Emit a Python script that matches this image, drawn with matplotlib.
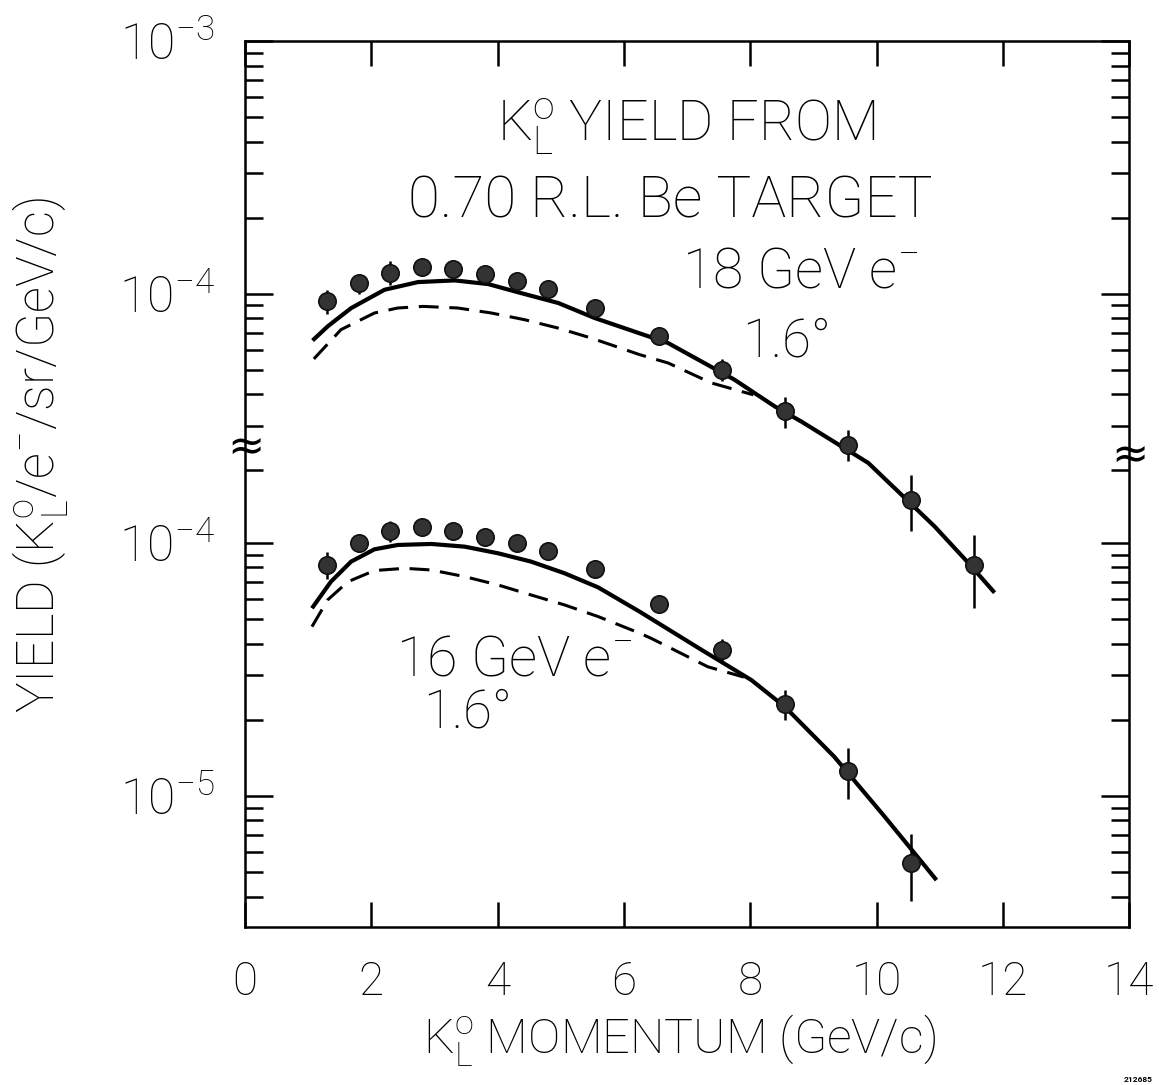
import numpy as np
import matplotlib.pyplot as plt

plt.rcParams['font.family'] = ['Roboto', 'DejaVu Sans']
plt.rcParams['font.weight'] = 'light'
plt.rcParams['mathtext.fontset'] = 'custom'
plt.rcParams['mathtext.rm'] = 'Roboto:light'
plt.rcParams['mathtext.it'] = 'Roboto:light'
plt.rcParams['mathtext.bf'] = 'Roboto'

# measured points (same momenta for both beams)
p_pts = [1.3, 1.8, 2.3, 2.8, 3.3, 3.8, 4.3, 4.8, 5.55, 6.55, 7.55, 8.55, 9.55, 10.55, 11.55]

# 18 GeV e-, 1.6 deg  (upper scale)
y18 = [9.33e-5, 1.10e-4, 1.213e-4, 1.275e-4, 1.253e-4, 1.20e-4, 1.12e-4, 1.045e-4,
       8.78e-5, 6.78e-5, 5.01e-5, 3.43e-5, 2.53e-5, 1.53e-5, 8.41e-6]
e18 = [1.0e-5, 1.0e-5, 1.3e-5, 0.9e-5, 1.0e-5, 1.0e-5, 0.9e-5, 0.85e-5,
       0.6e-5, 0.5e-5, 0.5e-5, 0.48e-5, 0.35e-5, 0.38e-5, 0.27e-5]

# 16 GeV e-, 1.6 deg  (lower scale)
y16 = [8.19e-5, 9.97e-5, 1.115e-4, 1.154e-4, 1.119e-4, 1.054e-4, 1.003e-4, 9.32e-5,
       7.89e-5, 5.73e-5, 3.78e-5, 2.31e-5, 1.26e-5, 5.45e-6]
e16 = [1.0e-5, 0.8e-5, 1.1e-5, 0.8e-5, 0.8e-5, 0.75e-5, 0.7e-5, 0.65e-5,
       0.55e-5, 0.4e-5, 0.38e-5, 0.32e-5, 0.29e-5, 0.16e-5]

# calculated curves
fit18_x = [1.07, 1.31, 1.68, 2.21, 2.74, 3.32, 3.85, 4.37, 4.96, 5.54, 6.70, 7.75,
           8.39, 8.81, 9.87, 10.92, 11.45, 11.87]
fit18_y = [6.53e-5, 7.43e-5, 8.77e-5, 1.037e-4, 1.112e-4, 1.129e-4, 1.092e-4, 1.006e-4,
           9.19e-5, 8.01e-5, 6.38e-5, 4.57e-5, 3.58e-5, 3.12e-5, 2.14e-5, 1.20e-5,
           8.63e-6, 6.56e-6]
dash18_x = [1.09, 1.52, 2.05, 2.42, 2.82, 3.37, 3.90, 4.43, 4.96, 5.48, 6.25, 6.70, 7.38, 8.05]
dash18_y = [5.52e-5, 7.21e-5, 8.39e-5, 8.78e-5, 8.91e-5, 8.78e-5, 8.39e-5, 7.89e-5,
            7.31e-5, 6.68e-5, 5.74e-5, 5.32e-5, 4.44e-5, 3.98e-5]

fit16_x = [1.06, 1.36, 1.68, 2.05, 2.42, 2.95, 3.48, 4.01, 4.53, 5.06, 5.59, 6.25,
           7.23, 8.02, 8.55, 9.33, 10.13, 10.95]
fit16_y = [5.52e-5, 7.03e-5, 8.44e-5, 9.44e-5, 9.82e-5, 9.91e-5, 9.67e-5, 9.10e-5,
           8.44e-5, 7.59e-5, 6.68e-5, 5.35e-5, 3.78e-5, 2.87e-5, 2.25e-5, 1.43e-5,
           8.28e-6, 4.65e-6]
dash16_x = [1.06, 1.31, 1.63, 2.05, 2.53, 2.95, 3.48, 4.01, 4.53, 5.06, 5.59, 6.25, 6.43, 7.33, 7.9]
dash16_y = [4.67e-5, 5.96e-5, 7.03e-5, 7.78e-5, 7.94e-5, 7.82e-5, 7.36e-5, 6.82e-5,
            6.23e-5, 5.69e-5, 5.12e-5, 4.40e-5, 4.20e-5, 3.24e-5, 2.95e-5]

x_ticks = [0, 2, 4, 6, 8, 10, 12, 14]
hi_major = [1e-4, 1e-3]
hi_labels = [r'$10^{-4}$', r'$10^{-3}$']
hi_minor = [m * 1e-4 for m in range(2, 10)] + [m * 1e-5 for m in range(2, 10)]
lo_major = [1e-5, 1e-4]
lo_labels = [r'$10^{-5}$', r'$10^{-4}$']
lo_minor = [m * 1e-5 for m in range(2, 10)] + [m * 1e-6 for m in range(4, 10)]

fig = plt.figure(figsize=(11.59, 10.85), dpi=100)
rect = [0.2114, 0.1456, 0.7628, 0.8166]
ax_hi = fig.add_axes(rect)
ax_lo = fig.add_axes(rect)
ax_lo.patch.set_visible(False)

ax_hi.set_yscale('log')
ax_lo.set_yscale('log')
ax_hi.set_xlim(0, 14)
ax_lo.set_xlim(0, 14)
ax_hi.set_ylim(10 ** -6.506, 1e-3)
ax_lo.set_ylim(10 ** -5.518, 10 ** -2.016)

lw_frame = 1.8
for ax in (ax_hi, ax_lo):
    for s in ax.spines.values():
        s.set_linewidth(lw_frame)
for s in ax_lo.spines.values():
    s.set_visible(False)

ax_hi.set_xticks(x_ticks)
ax_hi.set_xticklabels([str(t) for t in x_ticks])
ax_hi.tick_params(axis='x', which='major', direction='in', length=18, width=1.8,
                  top=True, bottom=True, labelsize=33, pad=24)
ax_lo.set_xticks([])

ax_hi.set_yticks(hi_major)
ax_hi.set_yticklabels(hi_labels)
ax_hi.set_yticks(hi_minor, minor=True)
ax_hi.set_yticklabels([], minor=True)
ax_lo.set_yticks(lo_major)
ax_lo.set_yticklabels(lo_labels)
ax_lo.set_yticks(lo_minor, minor=True)
ax_lo.set_yticklabels([], minor=True)
for ax in (ax_hi, ax_lo):
    ax.tick_params(axis='y', which='major', direction='in', length=20, width=1.8,
                   left=True, right=True, labelsize=36, pad=22)
    ax.tick_params(axis='y', which='minor', direction='in', length=13, width=1.8,
                   left=True, right=True)

# curves
ax_hi.plot(fit18_x, fit18_y, color='k', lw=3.0, solid_capstyle='butt')
ax_hi.plot(dash18_x, dash18_y, color='k', lw=2.2, linestyle=(0, (6.5, 3.5)))
ax_lo.plot(fit16_x, fit16_y, color='k', lw=3.0, solid_capstyle='butt')
ax_lo.plot(dash16_x, dash16_y, color='k', lw=2.2, linestyle=(0, (6.5, 3.5)))

# data points
ax_hi.errorbar(p_pts, y18, yerr=e18, fmt='o', ms=12.5, mfc='#333333', mec='#111111',
               mew=1.2, ecolor='k', elinewidth=1.8, capsize=0, zorder=5)
ax_lo.errorbar(p_pts[:len(y16)], y16, yerr=e16, fmt='o', ms=12.5, mfc='#333333', mec='#111111',
               mew=1.2, ecolor='k', elinewidth=1.8, capsize=0, zorder=5)

# annotations (figure pixel positions)
W, H = 1159, 1085


def ftext(px, py, s, **kw):
    fig.text(px / W, 1 - py / H, s, ha='center', va='center', **kw)


ftext(686, 127, r'K$^{\mathrm{o}}_{\mathrm{L}}$ YIELD FROM', fontsize=40)
ftext(670, 202, '0.70 R.L. Be TARGET', fontsize=42)
ftext(800, 272, r'18 GeV e$^{-}$', fontsize=40)
ftext(787, 342, '1.6°', fontsize=38)
ftext(514, 660, r'16 GeV e$^{-}$', fontsize=40)
ftext(468, 713, '1.6°', fontsize=38)
ftext(680, 1040, r'K$^{\mathrm{o}}_{\mathrm{L}}$ MOMENTUM (GeV/c)', fontsize=35)
ftext(40, 455, r'YIELD (K$^{\mathrm{o}}_{\mathrm{L}}$/e$^{-}$/sr/GeV/c)', fontsize=37, rotation=90)
ftext(246, 447, '≈', fontsize=32, family=['DejaVu Sans'], fontweight='normal')
ftext(1130, 455, '≈', fontsize=32, family=['DejaVu Sans'], fontweight='normal')
ftext(1138, 1079, '212685', fontsize=6, fontweight='bold')

fig.savefig('out.png', dpi=100)
